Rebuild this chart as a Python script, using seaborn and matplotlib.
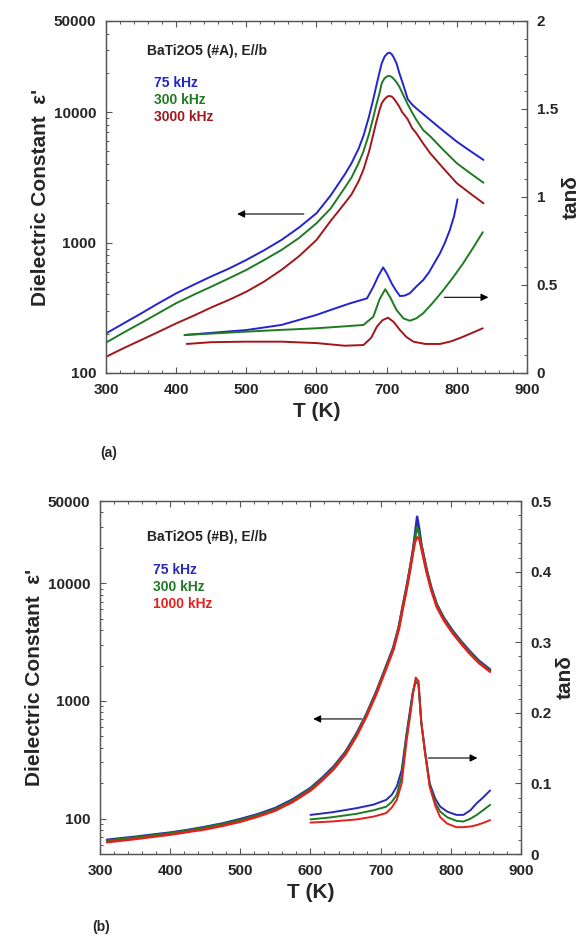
import numpy as np
import pandas as pd
import seaborn as sns
import matplotlib.pyplot as plt
from matplotlib.ticker import FixedLocator, LogLocator, NullFormatter, MultipleLocator, FuncFormatter

# ---------------- panel (a): BaTi2O5 (#A) ----------------
T_a_eps = [300, 325, 350, 375, 400, 425, 450, 475, 500, 525, 550, 575, 600, 620, 640, 650,
           660, 667, 675, 681, 685, 690, 693, 697, 701, 704, 707, 710, 714, 718, 722, 726,
           730, 736, 742, 752, 762, 780, 800, 820, 838]
eps_a_75 = [201, 240, 286, 343, 408, 475, 550, 631, 736, 871, 1047, 1303, 1679, 2291, 3311,
            4070, 5250, 6600, 9330, 12600, 15700, 20420, 23710, 26610, 28200, 28600, 27900,
            26300, 23710, 19950, 17220, 14790, 12590, 11480, 10720, 9660, 8710, 7240, 5940,
            5000, 4300]
eps_a_300 = [171, 204, 242, 288, 343, 398, 459, 531, 617, 733, 877, 1084, 1406, 1820, 2618,
             3160, 4070, 5010, 6840, 9120, 11220, 14130, 16670, 18200, 18840, 18970, 18620,
             17990, 16980, 15700, 14130, 12740, 11480, 10000, 8790, 7290, 6530, 5180, 4055,
             3373, 2877]
eps_a_3000 = [133, 155, 179, 207, 240, 275, 318, 363, 420, 501, 617, 785, 1047, 1462, 1995,
              2344, 2951, 3631, 5010, 6760, 8320, 10470, 11700, 12590, 13180, 13300, 13180,
              12740, 11890, 11020, 10000, 9419, 8810, 7586, 6918, 5754, 4842, 3750, 2851,
              2360, 2000]

T_a_tan_75 = [412, 450, 500, 550, 600, 620, 648, 672, 681, 688, 695, 701, 707, 713, 719,
              726, 733, 742, 752, 760, 768, 776, 783, 790, 796, 801]
tan_a_75 = [0.216, 0.228, 0.244, 0.273, 0.33, 0.358, 0.396, 0.424, 0.49, 0.55, 0.60, 0.56,
            0.51, 0.47, 0.437, 0.44, 0.453, 0.49, 0.528, 0.57, 0.625, 0.68, 0.74, 0.812,
            0.89, 0.987]
T_a_tan_300 = [412, 450, 500, 550, 600, 640, 667, 681, 690, 698, 705, 714, 724, 733, 742,
               752, 766, 781, 795, 809, 823, 837]
tan_a_300 = [0.216, 0.224, 0.235, 0.245, 0.254, 0.265, 0.273, 0.32, 0.42, 0.476, 0.43, 0.358,
             0.31, 0.297, 0.31, 0.339, 0.40, 0.472, 0.545, 0.623, 0.71, 0.80]
T_a_tan_3000 = [415, 450, 500, 550, 600, 640, 667, 678, 686, 694, 702, 710, 719, 728, 738,
                755, 776, 792, 809, 823, 837]
tan_a_3000 = [0.165, 0.175, 0.178, 0.178, 0.17, 0.155, 0.159, 0.20, 0.263, 0.30, 0.314, 0.29,
              0.244, 0.205, 0.178, 0.165, 0.165, 0.18, 0.206, 0.23, 0.254]

# ---------------- panel (b): BaTi2O5 (#B) ----------------
T_b_eps = [310, 325, 350, 375, 400, 425, 450, 475, 500, 525, 550, 575, 600, 617, 633, 650,
           666, 680, 694, 706, 718, 726, 732, 737, 742, 746, 749, 752, 755, 758, 762, 766,
           772, 780, 790, 803, 815, 827, 840, 856]
eps_b_75 = [66, 67.5, 70, 73, 76, 80, 85, 91, 99, 109, 123, 146, 182, 223, 277, 370, 534, 780,
            1210, 1850, 2840, 4300, 6640, 9300, 13650, 19000, 26200, 36800, 29000, 21500,
            16500, 12800, 9300, 6640, 5100, 3930, 3200, 2650, 2200, 1850]
eps_b_300 = [65, 66.5, 69, 72, 75, 79, 84, 90, 97, 107, 120, 143, 178, 218, 271, 362, 523, 765,
             1185, 1815, 2785, 4220, 6510, 9120, 13380, 18600, 24500, 29900, 26500, 20800,
             16000, 12450, 9060, 6480, 4980, 3840, 3130, 2590, 2150, 1810]
eps_b_1000 = [63, 64.5, 67, 70, 73, 77, 81, 87, 94, 104, 117, 139, 173, 212, 263, 352, 507, 742,
              1150, 1760, 2700, 4090, 6310, 8850, 12970, 18000, 22500, 24600, 24000, 20000,
              15500, 12100, 8800, 6300, 4850, 3740, 3050, 2520, 2100, 1770]

T_b_tan = [600, 630, 666, 690, 708, 716, 723, 730, 737, 742, 746, 750, 754, 758, 763, 770,
           778, 785, 795, 808, 818, 828, 837, 846, 856]
tan_b_75 = [0.0554, 0.059, 0.065, 0.070, 0.0767, 0.084, 0.0956, 0.119, 0.171, 0.2045, 0.23,
            0.245, 0.24, 0.186, 0.148, 0.10, 0.078, 0.067, 0.060, 0.0554, 0.0554, 0.062,
            0.072, 0.080, 0.09]
tan_b_300 = [0.049, 0.052, 0.057, 0.062, 0.067, 0.074, 0.084, 0.11, 0.168, 0.20, 0.23, 0.245,
             0.24, 0.186, 0.146, 0.097, 0.072, 0.060, 0.052, 0.047, 0.046, 0.050, 0.0554,
             0.062, 0.0696]
tan_b_1000 = [0.0445, 0.046, 0.049, 0.053, 0.058, 0.066, 0.0767, 0.10, 0.16, 0.195, 0.225,
              0.25, 0.245, 0.186, 0.145, 0.095, 0.068, 0.052, 0.043, 0.038, 0.038, 0.039,
              0.041, 0.044, 0.048]

freq_a = ['75 kHz', '300 kHz', '3000 kHz']
freq_b = ['75 kHz', '300 kHz', '1000 kHz']
pal_a = {'75 kHz': '#2323d2', '300 kHz': '#1f7a22', '3000 kHz': '#a3161b'}
pal_b = {'75 kHz': '#2a2ab8', '300 kHz': '#1f7a22', '1000 kHz': '#e3201c'}


def long_df(Ts, vals, names):
    rows = []
    for t, v, n in zip(Ts, vals, names):
        rows.append(pd.DataFrame({'T': t, 'val': v, 'freq': n}))
    return pd.concat(rows, ignore_index=True)


sns.set_style('ticks')
plt.rcParams['font.family'] = ['Liberation Sans', 'DejaVu Sans']
plt.rcParams['font.weight'] = 'bold'
plt.rcParams['axes.labelweight'] = 'bold'

fig = plt.figure(figsize=(5.86, 9.36), dpi=100)
ax_a = fig.add_axes([0.1809, 0.6015, 0.7184, 0.3761])
ax_b = fig.add_axes([0.1706, 0.0876, 0.7184, 0.3771])

spine_col = '#555555'


def style(ax, ax2, ylim, tmax, tstep):
    ax.set_yscale('log')
    ax.set_xlim(300, 900)
    ax.set_ylim(*ylim)
    ax.xaxis.set_major_locator(MultipleLocator(100))
    ax.xaxis.set_minor_locator(MultipleLocator(20))
    ax.yaxis.set_major_locator(FixedLocator([100, 1000, 10000, 50000]))
    ax.yaxis.set_major_formatter(FuncFormatter(lambda v, p: '%d' % v))
    ax.yaxis.set_minor_locator(LogLocator(base=10, subs=np.arange(2, 10), numticks=20))
    ax.yaxis.set_minor_formatter(NullFormatter())
    ax.tick_params(which='both', direction='in', top=True, right=False, color=spine_col,
                   labelsize=11, pad=7)
    ax.tick_params(which='major', length=4.5, width=0.8)
    ax.tick_params(which='minor', length=2.5, width=0.7)
    ax2.set_ylim(0, tmax)
    ax2.yaxis.set_major_locator(MultipleLocator(tstep))
    ax2.yaxis.set_minor_locator(MultipleLocator(tstep / 5))
    ax2.yaxis.set_major_formatter(FuncFormatter(lambda v, p: ('%g' % round(v, 3))))
    ax2.tick_params(which='both', direction='in', right=True, left=False, color=spine_col,
                    labelsize=11, pad=7)
    ax2.tick_params(which='major', length=4.5, width=0.8)
    ax2.tick_params(which='minor', length=2.5, width=0.7)
    for a in (ax, ax2):
        for s in a.spines.values():
            s.set_color(spine_col)
            s.set_linewidth(0.9)
    ax.set_xlabel('T (K)', fontsize=15, labelpad=4)
    ax.set_ylabel("Dielectric Constant  ε'", fontsize=15, labelpad=3)
    ax2.set_ylabel('tanδ', fontsize=15, labelpad=3)
    for lab in ax.get_xticklabels() + ax.get_yticklabels() + ax2.get_yticklabels():
        lab.set_fontweight('bold')


arrow = dict(arrowstyle='-|>', color='black', lw=0.8, mutation_scale=11, shrinkA=0, shrinkB=0)

# panel (a)
ax2_a = ax_a.twinx()
df_a_eps = long_df([T_a_eps] * 3, [eps_a_75, eps_a_300, eps_a_3000], freq_a)
df_a_tan = long_df([T_a_tan_75, T_a_tan_300, T_a_tan_3000], [tan_a_75, tan_a_300, tan_a_3000], freq_a)
sns.lineplot(data=df_a_eps, x='T', y='val', hue='freq', palette=pal_a, lw=1.4, legend=False, ax=ax_a)
sns.lineplot(data=df_a_tan, x='T', y='val', hue='freq', palette=pal_a, lw=1.4, legend=False, ax=ax2_a)
style(ax_a, ax2_a, (100, 50000), 2, 0.5)
ax_a.annotate('', xy=(487, 1656), xytext=(582, 1656), arrowprops=arrow)
ax2_a.annotate('', xy=(845, 0.43), xytext=(782, 0.43), arrowprops=arrow)
ax_a.text(0.097, 0.915, 'BaTi2O5 (#A), E//b', transform=ax_a.transAxes, fontsize=10,
          va='center', color='#222222')
for i, f in enumerate(freq_a):
    ax_a.text(0.114, 0.824 - i * 0.0485, f, transform=ax_a.transAxes, fontsize=10,
              va='center', color=pal_a[f])

# panel (b)
ax2_b = ax_b.twinx()
df_b_eps = long_df([T_b_eps] * 3, [eps_b_75, eps_b_300, eps_b_1000], freq_b)
df_b_tan = long_df([T_b_tan] * 3, [tan_b_75, tan_b_300, tan_b_1000], freq_b)
sns.lineplot(data=df_b_eps, x='T', y='val', hue='freq', palette=pal_b, lw=1.8, legend=False, ax=ax_b)
sns.lineplot(data=df_b_tan, x='T', y='val', hue='freq', palette=pal_b, lw=1.4, legend=False, ax=ax2_b)
style(ax_b, ax2_b, (50, 50000), 0.5, 0.1)
ax_b.annotate('', xy=(604, 703), xytext=(673, 703), arrowprops=arrow)
ax2_b.annotate('', xy=(838, 0.136), xytext=(768, 0.136), arrowprops=arrow)
ax_b.text(0.112, 0.898, 'BaTi2O5 (#B), E//b', transform=ax_b.transAxes, fontsize=10,
          va='center', color='#222222')
for i, f in enumerate(freq_b):
    ax_b.text(0.126, 0.805 - i * 0.0485, f, transform=ax_b.transAxes, fontsize=10,
              va='center', color=pal_b[f])

fig.text(0.171, 0.516, '(a)', fontsize=10, va='center')
fig.text(0.157, 0.0096, '(b)', fontsize=10, va='center')

fig.savefig('out.png', dpi=100)
